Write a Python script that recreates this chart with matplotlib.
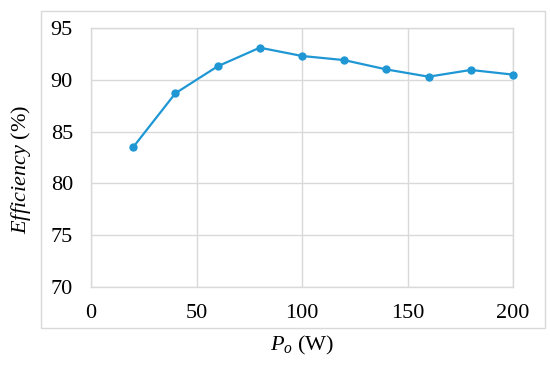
import matplotlib.pyplot as plt
import matplotlib.patches as mpatches

# output power (W) and measured efficiency (%)
power = [20, 40, 60, 80, 100, 120, 140, 160, 180, 200]
efficiency = [83.5, 88.7, 91.3, 93.1, 92.3, 91.9, 91.0, 90.3, 90.95, 90.5]
x_ticks = [0, 50, 100, 150, 200]
y_ticks = [70, 75, 80, 85, 90, 95]

plt.rcParams['font.family'] = 'Liberation Serif'
plt.rcParams['mathtext.fontset'] = 'custom'
plt.rcParams['mathtext.rm'] = 'Liberation Serif'
plt.rcParams['mathtext.it'] = 'Liberation Serif:italic'

W, H = 550, 368
L, R, T, B = 91, 513, 28, 287
fig = plt.figure(figsize=(5.5, 3.68), dpi=100)
ax = fig.add_axes([L / W, 1 - B / H, (R - L) / W, (B - T) / H])

# chart area frame (light gray box)
fig.patches.append(mpatches.Rectangle((41 / W, 1 - 328 / H), (545 - 41) / W, (328 - 11) / H,
                                      transform=fig.transFigure, fill=False,
                                      edgecolor='#d9d9d9', linewidth=1.0))

ax.plot(power, efficiency, color='#1f97d4', linewidth=1.6, marker='o', markersize=5,
        zorder=3, clip_on=False)

ax.set_xlim(0, 200)
ax.set_ylim(70, 95)
ax.set_xticks(x_ticks)
ax.set_yticks(y_ticks)
ax.grid(True, color='#d9d9d9', linewidth=1.0)
ax.set_axisbelow(True)
for s in ax.spines.values():
    s.set_color('#d9d9d9')
    s.set_linewidth(1.0)
ax.tick_params(length=0, labelsize=16, colors='#000000')
ax.tick_params(axis='y', pad=13)
ax.tick_params(axis='x', pad=12)

ax.set_ylabel(r'$\mathit{Efficiency}$ (%)', fontsize=16, va='center')
ax.yaxis.set_label_coords(-(L - 21) / (R - L), (B - 169) / (B - T))
ax.set_xlabel(r'$P_o$ (W)', fontsize=16, va='center')
ax.xaxis.set_label_coords(0.5, -(345 - B) / (B - T))

fig.savefig('out.png', dpi=100)
